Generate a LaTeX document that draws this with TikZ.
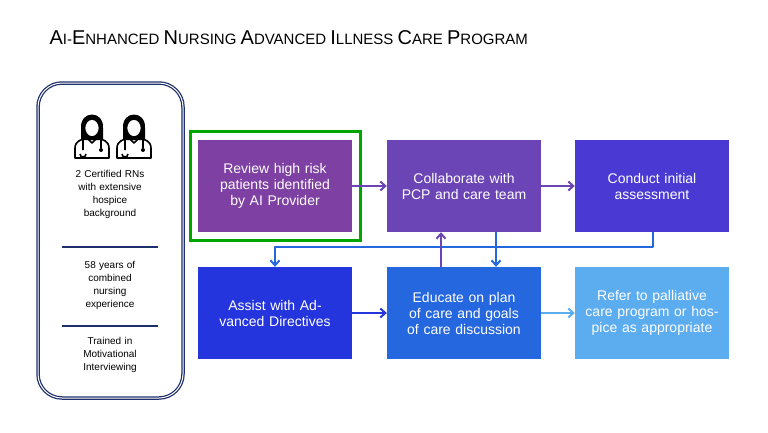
\documentclass[tikz,border=0pt]{standalone}
\usepackage{fontspec}
\setmainfont{Liberation Sans}
\usetikzlibrary{arrows.meta}
\definecolor{cA}{HTML}{7E40A2}
\definecolor{cB}{HTML}{6B45B6}
\definecolor{cC}{HTML}{4A3AD3}
\definecolor{cD}{HTML}{2535DD}
\definecolor{cE}{HTML}{2567DF}
\definecolor{cF}{HTML}{5CACF0}
\definecolor{navy}{HTML}{1F2F6B}
\begin{document}
\begin{tikzpicture}[x=1pt,y=-1pt,
 box/.style={minimum width=154pt,minimum height=92pt,text width=140pt,align=center,text=white,font=\fontsize{14}{16}\selectfont,inner sep=0pt},
 side/.style={align=center,font=\fontsize{10}{13}\selectfont,text width=110pt},
 arr/.style={-{Straight Barb[length=5pt,width=9pt]},line width=2pt}]
\useasboundingbox (0,0) rectangle (768,432);
\node[anchor=west,font=\fontsize{20}{24}\selectfont] (title) at (46,38) {A\fontsize{15}{18}\selectfont I-\fontsize{20}{24}\selectfont E\fontsize{15}{18}\selectfont NHANCED \fontsize{20}{24}\selectfont N\fontsize{15}{18}\selectfont URSING \fontsize{20}{24}\selectfont A\fontsize{15}{18}\selectfont DVANCED \fontsize{20}{24}\selectfont I\fontsize{15}{18}\selectfont LLNESS \fontsize{20}{24}\selectfont C\fontsize{15}{18}\selectfont ARE \fontsize{20}{24}\selectfont P\fontsize{15}{18}\selectfont ROGRAM};
% left panel
\draw[navy,line width=3.5pt,rounded corners=24pt] (38,83) rectangle (183,398);
\draw[white,line width=1pt,rounded corners=24pt] (38,83) rectangle (183,398);
\foreach \cx in {92,134}{
 \begin{scope}[shift={(\cx,0)},line width=1.6pt]
  \fill (-11,128) .. controls (-12,110) and (12,110) .. (11,128) -- (11,140) -- (-11,140) -- cycle;
  \fill[white] (0,128) ellipse (7.5pt and 9pt);
  \draw (0,128) ellipse (7.5pt and 9pt);
  \draw[line join=round] (-17,158) -- (-17,148) .. controls (-17,141) and (-10,139) .. (-5,138) -- (0,143) -- (5,138) .. controls (10,139) and (17,141) .. (17,148) -- (17,158) -- cycle;
  \draw (-9,140) -- (-9,150) (-12,154) arc (180:0:3);
  \draw (9,140) -- (9,148);
  \fill (9,150) circle (2pt);
 \end{scope}}
\node[side] (t1) at (110,194) {2 Certified RNs\\with extensive\\hospice\\background};
\node[side] (t2) at (110,285) {58 years of\\combined\\nursing\\experience};
\node[side] (t3) at (110,355) {Trained in\\Motivational\\Interviewing};
\draw[navy,line width=1.5pt] (62,247) -- (158,247) (62,326) -- (158,326);
% boxes
\node[box,fill=cA] (b1) at (275,186) {Review high risk patients identified by AI Provider};
\node[box,fill=cB] (b2) at (464,186) {Collaborate with PCP and care team};
\node[box,fill=cC] (b3) at (652,186) {Conduct initial assessment\\[14pt]};
\node[box,fill=cD] (b4) at (275,313) {Assist with Advanced Directives};
\node[box,fill=cE] (b5) at (464,313) {Educate on plan of care and goals of care discussion};
\node[box,fill=cF] (b6) at (652,313) {Refer to palliative care program or hospice as appropriate};
\draw[green!65!black,line width=3pt] (190,131) rectangle (360,240);
% arrows
\draw[arr,cB] (b1) -- (b2);
\draw[arr,cB] (b2) -- (b3);
\draw[arr,cD] (b4) -- (b5);
\draw[arr,cF] (b5) -- (b6);
\coordinate (c1) at (653,247);
\coordinate (c2) at (275,247);
\draw[arr,cE,line join=round] (b3.south -| c1) -- (c1) -- (c2) -- (b4.north);
\draw[arr,cB] ([xshift=-23pt]b5.north) -- ([xshift=-23pt]b2.south);
\draw[arr,cE] ([xshift=32pt]b2.south) -- ([xshift=32pt]b5.north);
\end{tikzpicture}
\end{document}
